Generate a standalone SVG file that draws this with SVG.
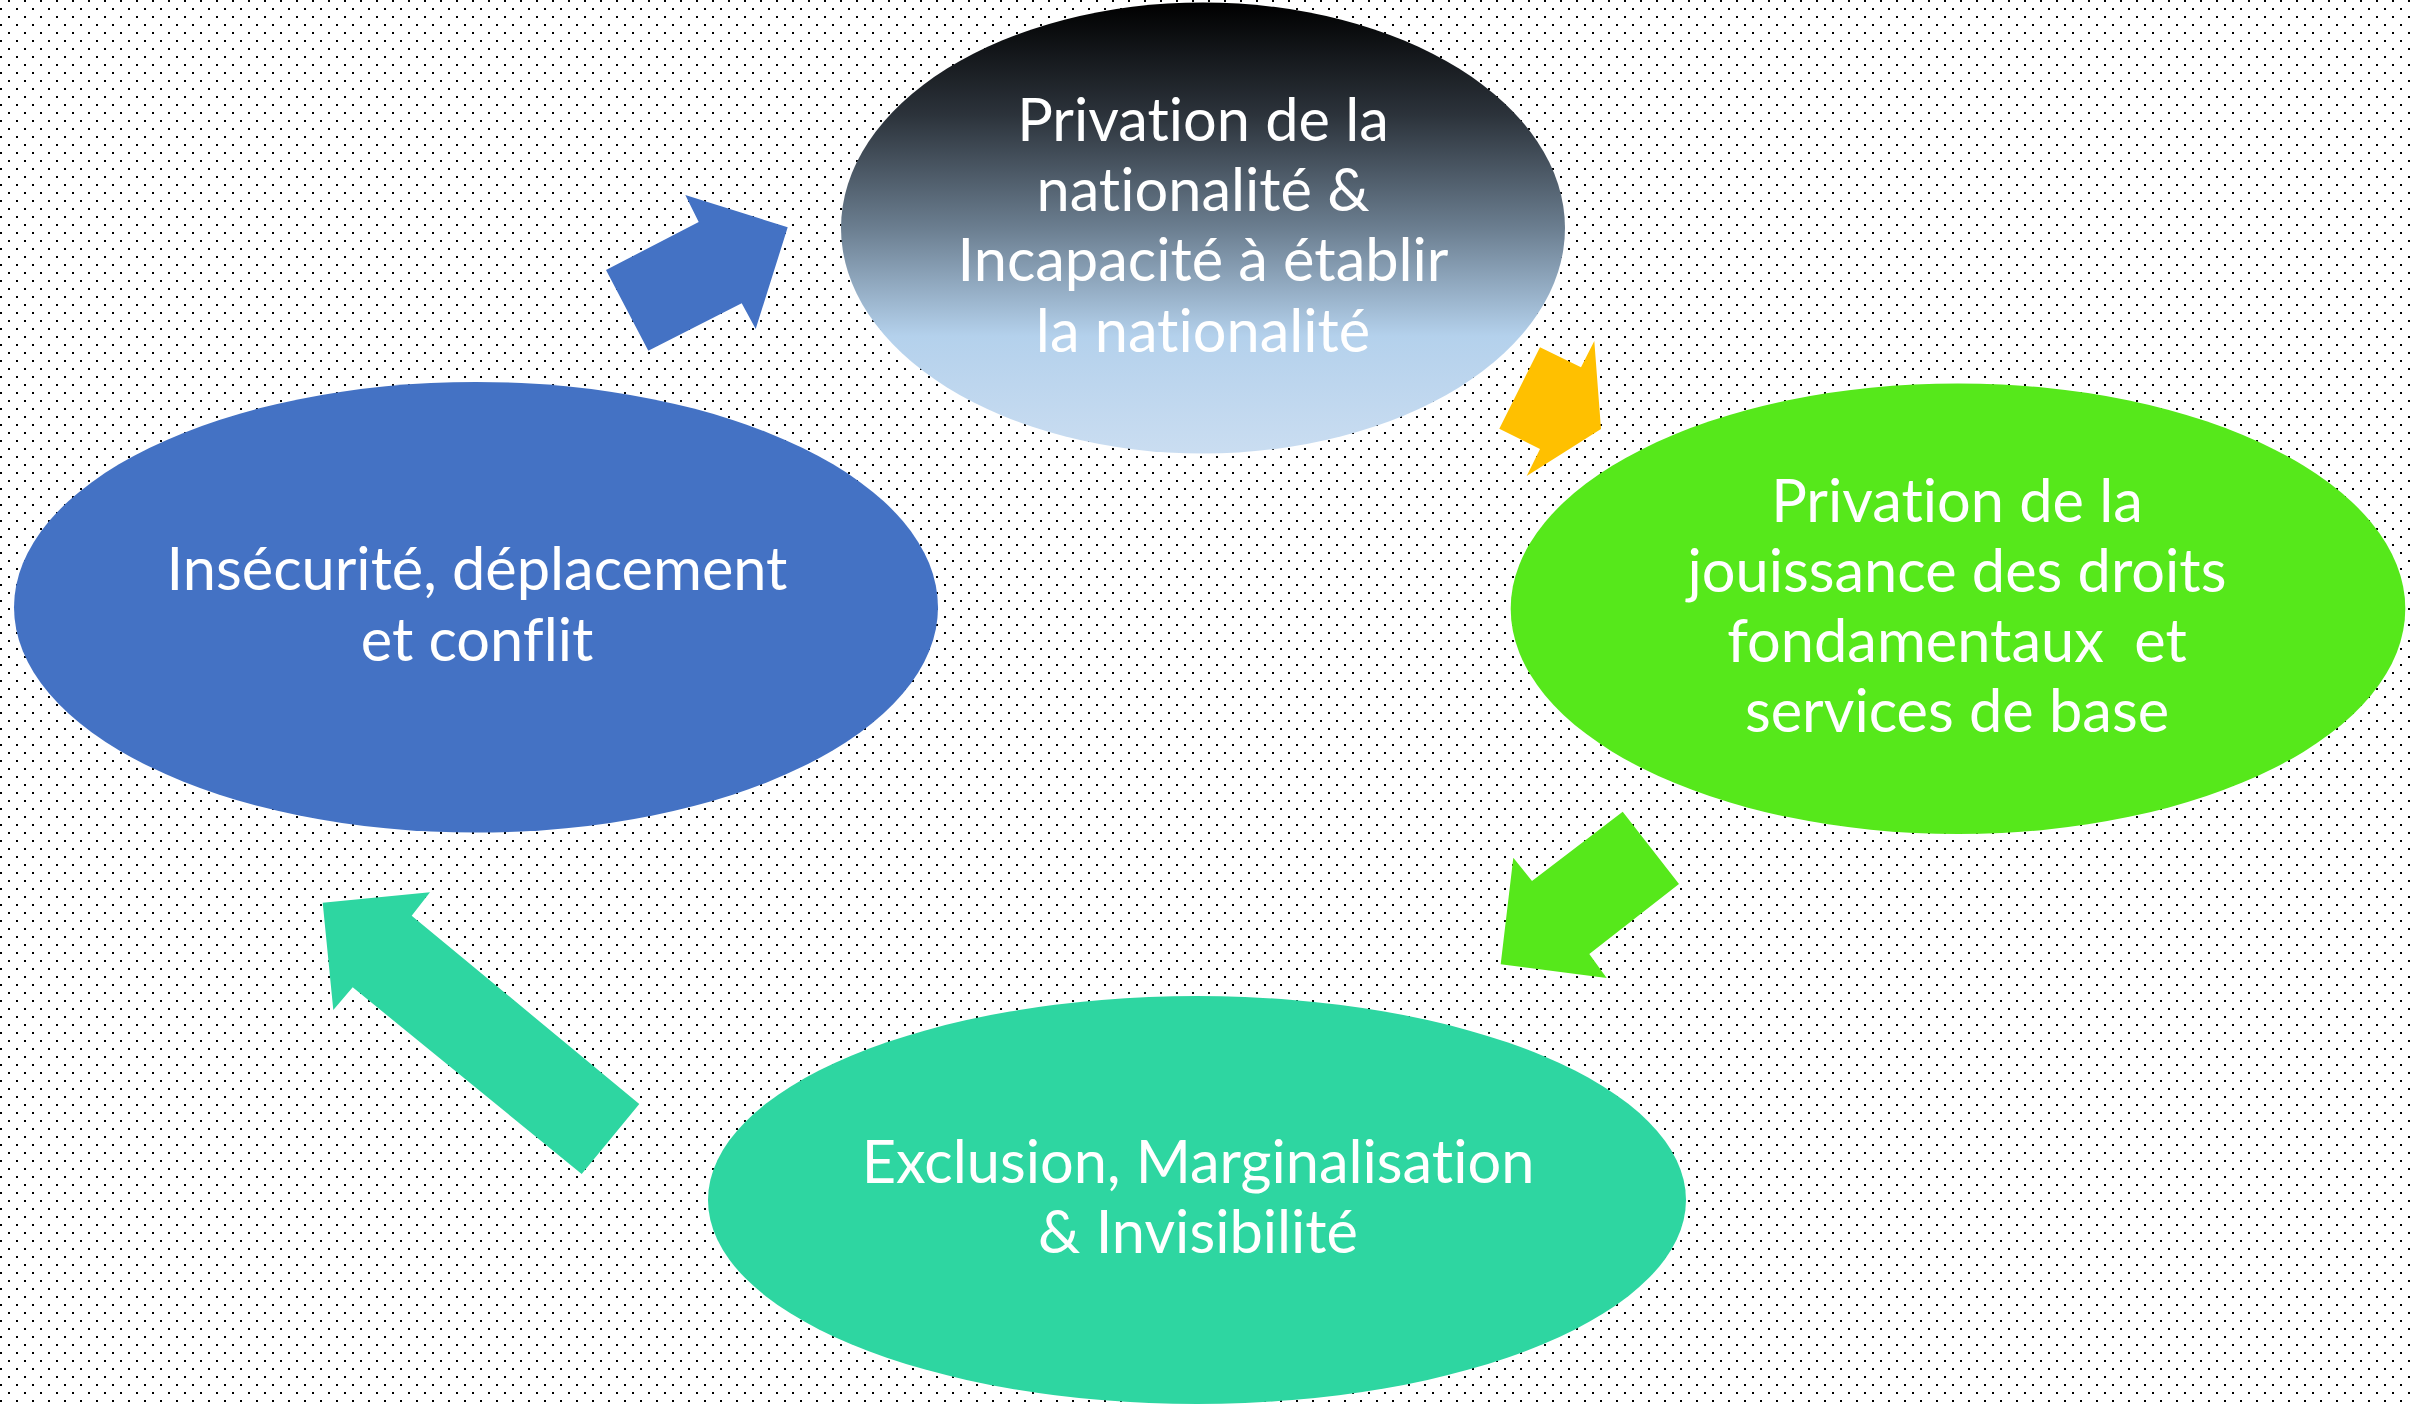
<svg xmlns="http://www.w3.org/2000/svg" width="2414" height="1408" viewBox="0 0 2414 1408">
  <defs>
    <pattern id="dots" x="0" y="0" width="16" height="16" patternUnits="userSpaceOnUse">
      <rect x="8" y="0" width="2" height="2" fill="#000"/>
      <rect x="0" y="8" width="2" height="2" fill="#000"/>
    </pattern>
    <linearGradient id="topGrad" x1="0" y1="0" x2="0" y2="1">
      <stop offset="0" stop-color="#000000"/>
      <stop offset="0.25" stop-color="#2C333B"/>
      <stop offset="0.5" stop-color="#6B7E90"/>
      <stop offset="0.74" stop-color="#B4D1EC"/>
      <stop offset="1" stop-color="#CADDF1"/>
    </linearGradient>
    <style>
      .lbl { font-family: Lato, "Open Sans", "Liberation Sans", sans-serif; font-size: 59.5px; fill: #FFFFFF; text-anchor: middle; font-variant-ligatures: none; font-feature-settings: "liga" 0, "dlig" 0; }
    </style>
  </defs>
  <rect x="0" y="0" width="2414" height="1408" fill="#FFFFFF"/>
  <rect x="0" y="0" width="2414" height="1408" fill="url(#dots)"/>

  <g id="connectors">
    <polygon fill="#4472C4" points="606,270 698.7,222 685.3,195 787.7,227.3 755.7,329 741.7,303.3 648.3,350.7"/>
    <polygon fill="#FFC000" points="1540,347.3 1581,367.3 1594.3,341 1601,429 1526.7,476 1540,449 1499.3,428.7"/>
    <polygon fill="#56E81B" points="1622.7,811.7 1679,884 1589.3,954 1606.7,978 1500.7,964.3 1513.3,857.7 1532,881"/>
    <polygon fill="#2ED6A1" points="322.7,902.7 430,892.3 411.7,915.7 639.3,1104 581.7,1174 352.7,987.3 333.3,1010"/>
  </g>

  <g id="node-nationalite">
    <ellipse cx="1203" cy="228" rx="362" ry="225.5" fill="url(#topGrad)"/>
    <text class="lbl" x="1203" y="141">Privation de la</text>
    <text class="lbl" x="1203" y="211">nationalité &amp;</text>
    <text class="lbl" x="1203" y="281">Incapacité à établir</text>
    <text class="lbl" x="1203" y="352">la nationalité</text>
  </g>

  <g id="node-droits">
    <ellipse cx="1958" cy="608.7" rx="447.3" ry="225.3" fill="#56E81B"/>
    <text class="lbl" x="1957" y="521.7">Privation de la</text>
    <text class="lbl" x="1957" y="591.7">jouissance des droits</text>
    <text class="lbl" x="1957" y="661.7" xml:space="preserve">fondamentaux  et</text>
    <text class="lbl" x="1957" y="732.3">services de base</text>
  </g>

  <g id="node-exclusion">
    <ellipse cx="1197" cy="1200" rx="489" ry="204" fill="#2ED6A1"/>
    <text class="lbl" x="1198" y="1182.7">Exclusion, Marginalisation</text>
    <text class="lbl" x="1198" y="1253.3">&amp; Invisibilité</text>
  </g>

  <g id="node-insecurite">
    <ellipse cx="476" cy="607.3" rx="462" ry="225.3" fill="#4472C4"/>
    <text class="lbl" x="477" y="590">Insécurité, déplacement</text>
    <text class="lbl" x="477" y="660.7">et conflit</text>
  </g>
</svg>
